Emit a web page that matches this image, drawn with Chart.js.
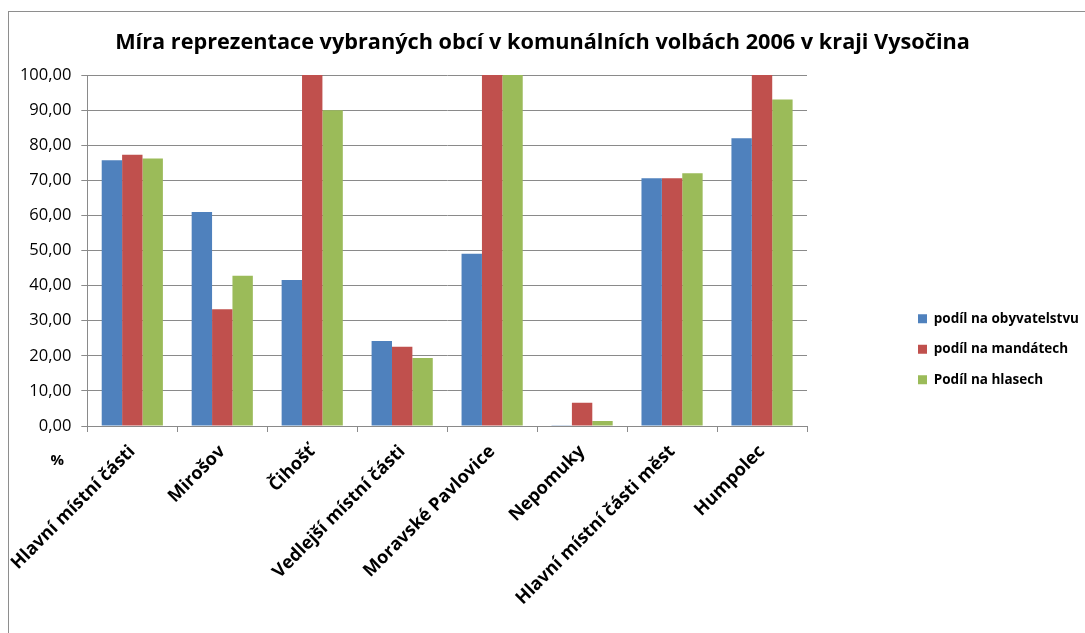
<!DOCTYPE html>
<html>
<head>
<meta charset="utf-8">
<script src="https://cdn.jsdelivr.net/npm/chart.js@4.4.0/dist/chart.umd.min.js"></script>
<style>
  body { margin: 0; background: #fff; overflow: hidden; }
  #wrap { position: absolute; left: 0; top: 0; width: 1085px; height: 633px; }
  #frame { position: absolute; left: 8px; top: 11px; width: 1090px; height: 640px;
           border-top: 1px solid #8e8e8e; border-left: 1px solid #8e8e8e; pointer-events: none; }
</style>
</head>
<body>
<div id="wrap"><canvas id="barChart"></canvas></div>
<div id="frame"></div>
<script>
let obce = ['Hlavní místní části', 'Mirošov', 'Čihošť', 'Vedlejší místní části',
            'Moravské Pavlovice', 'Nepomuky', 'Hlavní místní části měst', 'Humpolec'];
let obyvatelstvo = [75.7, 61.0, 41.6, 24.2, 49.1, 0.1, 70.6, 82.0];
let mandaty = [77.3, 33.3, 100, 22.6, 100, 6.6, 70.6, 100];
let hlasy = [76.2, 42.8, 90.0, 19.4, 100, 1.4, 72.0, 93.0];
let nazvySerii = ['podíl na obyvatelstvu', 'podíl na mandátech', 'Podíl na hlasech'];
let nadpis = 'Míra reprezentace vybraných obcí v komunálních volbách 2006 v kraji Vysočina';

const FONT = '"Open Sans"';
const GRID = '#8a8a8a';

// legenda vpravo - posunout a zafixovat sirku
const legendPos = {
  id: 'legendPos',
  beforeLayout(chart) {
    const lg = chart.legend;
    if (lg && !lg._wrapped) {
      const fit = lg.fit;
      lg.fit = function () { fit.call(this); this.width = 278; };
      lg._wrapped = true;
    }
  },
  afterLayout(chart) {
    const lg = chart.legend;
    lg.left = 901;
    lg.top = 295;
  }
};

// znak % pod osou y
const procenta = {
  id: 'procenta',
  afterDraw(chart) {
    const c = chart.ctx;
    c.save();
    c.font = 'bold 15px ' + FONT;
    c.fillStyle = '#000';
    c.textAlign = 'center';
    c.textBaseline = 'middle';
    c.fillText('%', chart.chartArea.left - 30, chart.chartArea.bottom + 35);
    c.restore();
  }
};

var ctx = document.getElementById('barChart').getContext('2d');
var barChart = new Chart(ctx, {
  type: 'bar',
  data: {
    labels: obce,
    datasets: [
      { label: nazvySerii[0], data: obyvatelstvo, backgroundColor: '#4F81BD' },
      { label: nazvySerii[1], data: mandaty, backgroundColor: '#C0504D' },
      { label: nazvySerii[2], data: hlasy, backgroundColor: '#9BBB59' }
    ]
  },
  options: {
    responsive: true,
    maintainAspectRatio: false,
    animation: false,
    categoryPercentage: 0.68,
    barPercentage: 1.0,
    layout: { padding: 0 },
    plugins: {
      title: {
        display: true,
        text: nadpis,
        color: '#000',
        font: { family: FONT, size: 21.7, weight: 'bold' },
        padding: { top: 30, bottom: 19 }
      },
      legend: {
        position: 'right',
        align: 'start',
        labels: {
          boxWidth: 9,
          boxHeight: 9,
          padding: 17,
          color: '#000',
          font: { family: FONT, size: 13.5, weight: 'bold' }
        }
      },
      tooltip: { enabled: false }
    },
    scales: {
      x: {
        grid: { display: true, drawOnChartArea: false, color: GRID, tickLength: 6, offset: true },
        border: { color: GRID },
        ticks: {
          color: '#000',
          font: { family: FONT, size: 18, weight: 'bold' },
          minRotation: 45,
          maxRotation: 45,
          autoSkip: false,
          padding: 9
        },
        afterFit: s => { s.height = 207; }
      },
      y: {
        min: 0,
        max: 100,
        grid: { color: GRID, tickLength: 6 },
        border: { color: GRID },
        ticks: {
          stepSize: 10,
          color: '#000',
          padding: 10,
          font: { family: FONT, size: 16.5 },
          callback: v => v.toFixed(2).replace('.', ',')
        },
        afterFit: s => { s.width = 87; }
      }
    }
  },
  plugins: [legendPos, procenta]
});
</script>
</body>
</html>
